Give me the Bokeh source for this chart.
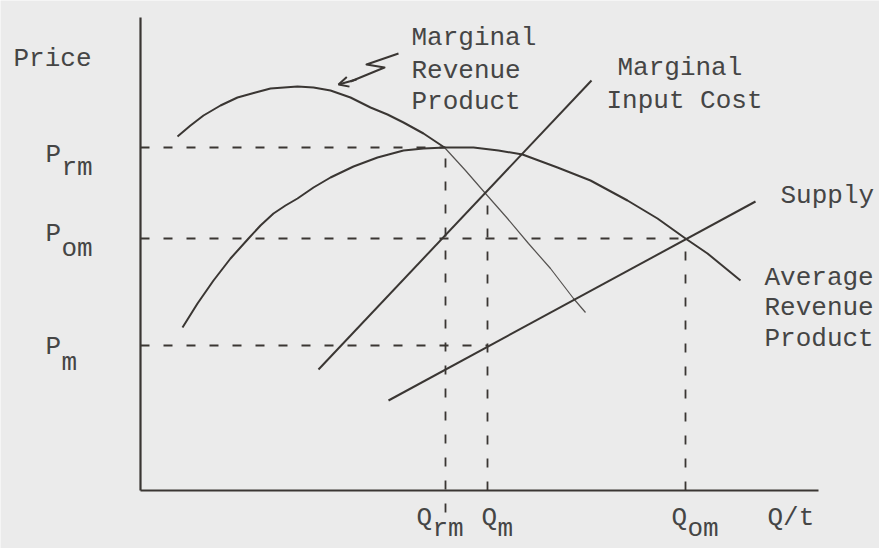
from bokeh.plotting import figure
from bokeh.models import Range1d, Label, Arrow, OpenHead
from bokeh.embed import file_html
from bokeh.resources import INLINE

# ---- data (quantity Q/t on x, price on y; arbitrary units) ----
# Marginal Revenue Product curve
mrp_q = [3.7, 5.0, 6.3, 8.0, 9.7, 11.5, 13.0, 15.7, 17.3, 19.0, 21.0, 23.0, 24.7, 26.3, 28.3, 30.4,
         32.5, 34.5, 36.7, 38.8, 41.0, 43.3, 44.5]
mrp_p = [35.4, 36.5, 37.5, 38.5, 39.3, 39.8, 40.2, 40.4, 40.3, 40.0, 39.3, 38.3, 37.6, 36.8, 35.7, 34.3,
         32.0, 29.7, 27.2, 24.7, 22.2, 19.2, 17.8]
# Average Revenue Product curve
arp_q = [4.2, 5.7, 7.3, 9.0, 10.8, 12.0, 13.3, 14.5, 15.7, 17.3, 19.0, 21.3, 23.7, 26.3, 28.3, 30.5,
         33.3, 35.8, 38.2, 41.7, 45.0, 48.7, 51.7, 54.5, 56.7, 60.0]
arp_p = [16.3, 18.7, 21.0, 23.2, 25.2, 26.5, 27.7, 28.5, 29.2, 30.3, 31.3, 32.4, 33.3, 34.0, 34.2, 34.3,
         34.3, 34.0, 33.6, 32.3, 31.0, 29.0, 27.2, 25.2, 23.7, 21.0]
# Marginal Input Cost (straight line)
mic_q = [17.8, 45.1]
mic_p = [12.1, 41.0]
# Supply (straight line)
sup_q = [24.8, 61.5]
sup_p = [9.0, 28.9]

# reference levels
Q_RM, Q_M, Q_OM = 30.5, 34.7, 54.5
P_RM, P_OM, P_M = 34.3, 25.2, 14.5
MRP_AT_QM = 29.7
Q_AXIS_END, P_AXIS_END = 67.8, 47.3

LINE = "#3a3633"
TEXT = "#454545"
BG = "#ebebeb"
FONT = "Liberation Mono"
FS = "26px"

p = figure(width=879, height=548, x_range=Range1d(-14.0, 73.9), y_range=Range1d(-5.8, 49.0),
           output_backend="svg", toolbar_location=None, min_border=0,
           x_axis_location=None, y_axis_location=None)
p.grid.visible = False
p.outline_line_color = None
p.background_fill_color = BG
p.border_fill_color = BG

# axes
p.line([0, 0], [0, P_AXIS_END], line_color=LINE, line_width=2.2)
p.line([0, Q_AXIS_END], [0, 0], line_color=LINE, line_width=2.2)

# dashed guides
dash = "9 14"
dkw = dict(line_color=LINE, line_width=1.8, line_dash=dash)
p.line([0, Q_RM], [P_RM, P_RM], **dkw)
p.line([0, Q_OM], [P_OM, P_OM], **dkw)
p.line([0, Q_M], [P_M, P_M], **dkw)
p.line([Q_RM, Q_RM], [-2.2, P_RM], **dkw)
p.line([Q_M, Q_M], [0, MRP_AT_QM], **dkw)
p.line([Q_OM, Q_OM], [0, P_OM], **dkw)

# curves
k = 15
p.line(mrp_q[:k + 1], mrp_p[:k + 1], line_color=LINE, line_width=2.0, line_join="round")
p.line(mrp_q[k:], mrp_p[k:], line_color="#555250", line_width=1.2, line_join="round")
p.line(arp_q, arp_p, line_color=LINE, line_width=2.0, line_join="round")
p.line(mic_q, mic_p, line_color=LINE, line_width=2.0)
p.line(sup_q, sup_p, line_color=LINE, line_width=2.0)

# squiggle arrow pointing to the MRP curve
p.line([25.8, 22.6, 24.4, 21.0], [43.7, 42.6, 42.3, 40.9], line_color=LINE, line_width=2.0, line_join="round")
p.add_layout(Arrow(end=OpenHead(size=10, line_color=LINE, line_width=2.0),
                   x_start=21.6, y_start=41.1, x_end=19.8, y_end=40.6,
                   line_color=LINE, line_width=2.0))


def lab(txt, px, py, base="alphabetic"):
    p.add_layout(Label(x=(px - 140) / 10, y=(490 - py) / 10, text=txt, text_font=FONT,
                       text_font_size=FS, text_color=TEXT, text_baseline=base,
                       text_align="left"))


lab("Price", 13, 58)
lab("P", 45, 154); lab("rm", 61, 167)
lab("P", 45, 233); lab("om", 61, 248)
lab("P", 45, 346); lab("m", 61, 362)
# bottom row: anchored by the bottom of the text box so it stays inside the picture
lab("Q", 416, 532, "bottom"); lab("rm", 432, 543, "bottom")
lab("Q", 481, 532, "bottom"); lab("m", 497, 543, "bottom")
lab("Q", 671, 532, "bottom"); lab("om", 687, 543, "bottom")
lab("Q/t", 767, 532, "bottom")
lab("Marginal", 411, 37); lab("Revenue", 411, 70); lab("Product", 411, 101)
lab("Marginal", 617, 67); lab("Input Cost", 606, 100)
lab("Supply", 780, 195)
lab("Average", 764, 277); lab("Revenue", 764, 307); lab("Product", 764, 338)

open("out.html", "w").write(file_html(p, INLINE))
